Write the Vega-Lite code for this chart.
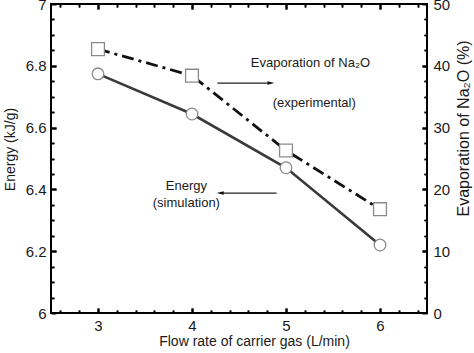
{
  "$schema": "https://vega.github.io/schema/vega-lite/v6.json",
  "width": 376,
  "height": 309,
  "autosize": "none",
  "padding": {"left": 51, "top": 4, "right": 47, "bottom": 40},
  "background": "white",
  "datasets": {
    "main": [
      {"flow": 3, "energy": 6.774, "evap": 42.7},
      {"flow": 4, "energy": 6.644, "evap": 38.4},
      {"flow": 5, "energy": 6.47, "evap": 26.3},
      {"flow": 6, "energy": 6.22, "evap": 16.8}
    ],
    "notes": [
      {"label": "Evaporation of Na₂O", "x": 5.26, "y": 6.809},
      {"label": "(experimental)", "x": 5.3, "y": 6.68},
      {"label": "Energy", "x": 3.94, "y": 6.41},
      {"label": "(simulation)", "x": 3.94, "y": 6.356}
    ],
    "arrows": [
      {"dir": "right", "x": 4.27, "x2": 4.84, "tip": 4.84, "y": 6.744},
      {"dir": "left", "x": 4.9, "x2": 4.3, "tip": 4.3, "y": 6.388}
    ]
  },
  "layer": [
    {
      "data": {"name": "main"},
      "mark": {"type": "line", "color": "#3a3a3a", "strokeWidth": 2.6},
      "encoding": {
        "x": {"field": "flow", "type": "quantitative",
          "scale": {"domain": [2.5, 6.5], "nice": false, "zero": false},
          "axis": {
            "orient": "bottom",
            "title": "Flow rate of carrier gas (L/min)",
            "values": [3, 4, 5, 6],
            "format": "d",
            "domain": false,
            "ticks": true,
            "offset": -5,
            "tickSize": 5,
            "labelPadding": 5,
            "titleX": 203,
            "titleY": 33,
            "titleAlign": "center",
            "titleBaseline": "middle",
            "zindex": 1
          }
        },
        "y": {"field": "energy", "type": "quantitative",
          "scale": {"domain": [6, 7], "nice": false, "zero": false},
          "axis": {
            "orient": "left",
            "title": "Energy (kJ/g)",
            "values": [6, 6.2, 6.4, 6.6, 6.8, 7],
            "format": ".1~f",
            "domain": false,
            "ticks": true,
            "offset": -5,
            "tickSize": 5,
            "labelPadding": 5,
            "titleAngle": -90,
            "titleX": -46,
            "titleY": 145,
            "titleAlign": "center",
            "titleBaseline": "middle",
            "zindex": 1
          }
        }
      }
    },
    {
      "data": {"name": "main"},
      "mark": {"type": "line", "color": "#111", "strokeWidth": 2.8, "strokeDash": [12, 5, 3, 5]},
      "encoding": {
        "x": {"field": "flow", "type": "quantitative",
          "scale": {"domain": [2.5, 6.5], "nice": false, "zero": false},
          "axis": {
            "orient": "top",
            "title": null,
            "labels": false,
            "values": [3, 4, 5, 6],
            "domain": false,
            "ticks": true,
            "offset": -5,
            "tickSize": 5,
            "zindex": 1
          }
        },
        "y": {"field": "evap", "type": "quantitative",
          "scale": {"domain": [0, 50], "nice": false, "zero": false},
          "axis": {
            "orient": "right",
            "title": "Evaporation of Na₂O (%)",
            "values": [0, 10, 20, 30, 40, 50],
            "format": "d",
            "domain": false,
            "ticks": true,
            "offset": -5,
            "tickSize": 5,
            "labelPadding": 6,
            "titleFontSize": 16,
            "titleAngle": -90,
            "titleX": 41,
            "titleY": 124,
            "titleAlign": "center",
            "titleBaseline": "middle",
            "zindex": 1
          }
        }
      }
    },
    {
      "data": {"name": "main"},
      "mark": {"type": "point", "shape": "circle", "size": 135, "filled": false, "fill": "white", "fillOpacity": 1, "stroke": "#8a8a8a", "strokeWidth": 1.3, "opacity": 1},
      "encoding": {
        "x": {"field": "flow", "type": "quantitative",
          "scale": {"domain": [2.5, 6.5], "nice": false, "zero": false},
          "axis": {
            "orient": "bottom", "title": null, "labels": false, "domain": false,
            "ticks": true, "tickWidth": 1.6,
            "values": [2.6,2.8,3.2,3.4,3.6,3.8,4.2,4.4,4.6,4.8,5.2,5.4,5.6,5.8,6.2,6.4],
            "offset": -3, "tickSize": 3, "zindex": 1
          }
        },
        "y": {"field": "energy", "type": "quantitative",
          "scale": {"domain": [6, 7], "nice": false, "zero": false},
          "axis": {
            "orient": "left", "title": null, "labels": false, "domain": false,
            "ticks": true, "tickWidth": 1.6,
            "values": [6.05,6.1,6.15,6.25,6.3,6.35,6.45,6.5,6.55,6.65,6.7,6.75,6.85,6.9,6.95],
            "offset": -3, "tickSize": 3, "zindex": 1
          }
        }
      }
    },
    {
      "data": {"name": "main"},
      "mark": {"type": "point", "shape": "square", "size": 165, "filled": false, "fill": "white", "fillOpacity": 1, "stroke": "#8a8a8a", "strokeWidth": 1.3, "opacity": 1},
      "encoding": {
        "x": {"field": "flow", "type": "quantitative",
          "scale": {"domain": [2.5, 6.5], "nice": false, "zero": false},
          "axis": {
            "orient": "top", "title": null, "labels": false, "domain": false,
            "ticks": true, "tickWidth": 1.6,
            "values": [2.6,2.8,3.2,3.4,3.6,3.8,4.2,4.4,4.6,4.8,5.2,5.4,5.6,5.8,6.2,6.4],
            "offset": -3, "tickSize": 3, "zindex": 1
          }
        },
        "y": {"field": "evap", "type": "quantitative",
          "scale": {"domain": [0, 50], "nice": false, "zero": false},
          "axis": {
            "orient": "right", "title": null, "labels": false, "domain": false,
            "ticks": true, "tickWidth": 1.6,
            "values": [2.5,5,7.5,12.5,15,17.5,22.5,25,27.5,32.5,35,37.5,42.5,45,47.5],
            "offset": -3, "tickSize": 3, "zindex": 1
          }
        }
      }
    },
    {
      "data": {"name": "notes"},
      "mark": {"type": "text", "font": "Liberation Sans", "fontSize": 13, "color": "#1a1a1a", "align": "center", "baseline": "middle"},
      "encoding": {
        "x": {"field": "x", "type": "quantitative", "scale": {"domain": [2.5, 6.5], "nice": false, "zero": false},
          "axis": {
            "orient": "bottom", "title": null, "labels": false, "domain": false, "ticks": false,
            "values": [3, 4, 5, 6],
            "grid": true, "gridColor": "#000", "gridOpacity": 1, "gridWidth": 2,
            "gridDash": [5, 299, 5, 100], "zindex": 1
          }
        },
        "y": {"field": "y", "type": "quantitative", "scale": {"domain": [6, 7], "nice": false, "zero": false},
          "axis": {
            "orient": "left", "title": null, "labels": false, "domain": false, "ticks": false,
            "values": [6.2, 6.4, 6.6, 6.8],
            "grid": true, "gridColor": "#000", "gridOpacity": 1, "gridWidth": 2,
            "gridDash": [5, 366, 5, 100], "zindex": 1
          }
        },
        "text": {"field": "label", "type": "nominal"}
      }
    },
    {
      "data": {"name": "arrows"},
      "mark": {"type": "rule", "color": "#222", "strokeWidth": 1.3},
      "encoding": {
        "x": {"field": "x", "type": "quantitative", "scale": {"domain": [2.5, 6.5], "nice": false, "zero": false},
          "axis": {
            "orient": "bottom", "title": null, "labels": false, "domain": false, "ticks": false,
            "values": [2.6,2.8,3.2,3.4,3.6,3.8,4.2,4.4,4.6,4.8,5.2,5.4,5.6,5.8,6.2,6.4],
            "grid": true, "gridColor": "#000", "gridOpacity": 1, "gridWidth": 1.6,
            "gridDash": [3, 303, 3, 100], "zindex": 1
          }
        },
        "x2": {"field": "x2"},
        "y": {"field": "y", "type": "quantitative", "scale": {"domain": [6, 7], "nice": false, "zero": false},
          "axis": {
            "orient": "left", "title": null, "labels": false, "domain": false, "ticks": false,
            "values": [6.05,6.1,6.15,6.25,6.3,6.35,6.45,6.5,6.55,6.65,6.7,6.75,6.85,6.9,6.95],
            "grid": true, "gridColor": "#000", "gridOpacity": 1, "gridWidth": 1.6,
            "gridDash": [3, 370, 3, 100], "zindex": 1
          }
        }
      }
    },
    {
      "data": {"name": "arrows"},
      "transform": [{"filter": "datum.dir === 'right'"}],
      "mark": {"type": "point", "shape": "M-1,-0.5L1,0L-1,0.5Z", "size": 49, "filled": true, "color": "#111", "opacity": 1},
      "encoding": {
        "x": {"field": "tip", "type": "quantitative", "scale": {"domain": [2.5, 6.5], "nice": false, "zero": false}, "axis": null},
        "y": {"field": "y", "type": "quantitative", "scale": {"domain": [6, 7], "nice": false, "zero": false}, "axis": null}
      }
    },
    {
      "data": {"name": "arrows"},
      "transform": [{"filter": "datum.dir === 'left'"}],
      "mark": {"type": "point", "shape": "M1,-0.5L-1,0L1,0.5Z", "size": 49, "filled": true, "color": "#111", "opacity": 1},
      "encoding": {
        "x": {"field": "tip", "type": "quantitative", "scale": {"domain": [2.5, 6.5], "nice": false, "zero": false}, "axis": null},
        "y": {"field": "y", "type": "quantitative", "scale": {"domain": [6, 7], "nice": false, "zero": false}, "axis": null}
      }
    }
  ],
  "resolve": {"scale": {"y": "independent"}, "axis": {"x": "independent"}},
  "config": {
    "view": {"stroke": "#000", "strokeWidth": 2},
    "axis": {
      "grid": false,
      "ticks": true,
      "tickColor": "#000",
      "tickWidth": 2,
      "labelFont": "Liberation Sans",
      "labelFontSize": 15,
      "labelColor": "#1a1a1a",
      "titleFont": "Liberation Sans",
      "titleFontSize": 14,
      "titleFontWeight": "normal",
      "titleColor": "#1a1a1a"
    }
  }
}
